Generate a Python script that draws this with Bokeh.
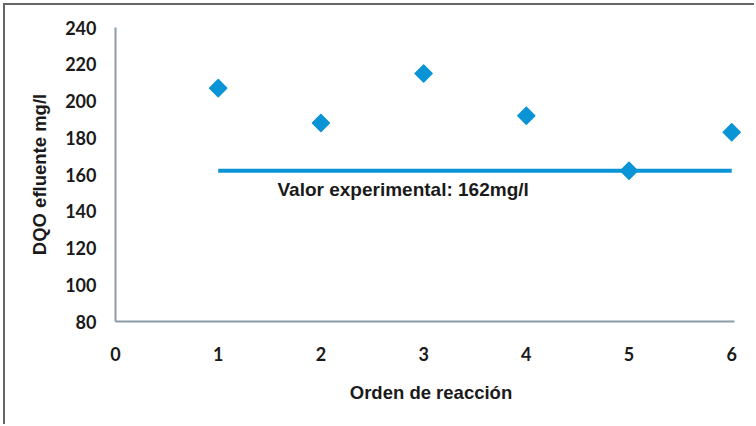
import math
from bokeh.plotting import figure
from bokeh.models import Range1d, FixedTicker, Label
from bokeh.embed import file_html
from bokeh.resources import INLINE

# Data
orden = [1, 2, 3, 4, 5, 6]
dqo = [207, 188, 215, 192, 162, 183]
valor_exp = 162
linea_x = [1, 6]
x_ticks = [0, 1, 2, 3, 4, 5, 6]
y_ticks = [80, 100, 120, 140, 160, 180, 200, 220, 240]
anot_texto = "Valor experimental: 162mg/l"

BLUE = "#0a94d6"
AXIS = "#8a9ca5"
TXT = "#1a1a1a"

p = figure(width=751, height=421, output_backend="svg", toolbar_location=None,
           x_range=Range1d(0, 6.144), y_range=Range1d(80, 240),
           min_border_left=110, min_border_right=10, min_border_top=22, min_border_bottom=105)
p.styles = {"border-top": "2px solid #666", "border-left": "2px solid #666",
            "margin-top": "3px", "margin-left": "3px"}
p.outline_line_color = None
p.grid.grid_line_color = None

p.line(linea_x, [valor_exp, valor_exp], line_color=BLUE, line_width=4)
p.scatter(orden, dqo, marker="square", size=12, angle=math.pi / 4,
          fill_color=BLUE, line_color=BLUE, line_width=1.5, line_join="round")

lab = Label(x=1.577, y=151.6, text=anot_texto, text_font="Liberation Sans",
            text_font_style="bold", text_font_size="19px", text_color=TXT,
            text_baseline="middle")
p.add_layout(lab)

for ax in (p.xaxis, p.yaxis):
    ax.axis_line_color = AXIS
    ax.axis_line_width = 2
    ax.major_tick_line_color = None
    ax.minor_tick_line_color = None
    ax.major_label_text_font = "Lato"
    ax.major_label_text_font_style = "bold"
    ax.major_label_text_font_size = "18px"
    ax.major_label_text_color = TXT
    ax.axis_label_text_font = "Liberation Sans"
    ax.axis_label_text_font_style = "bold"
    ax.axis_label_text_font_size = "18.5px"
    ax.axis_label_text_color = TXT

p.xaxis.bounds = (0, 6.03)
p.xaxis.ticker = FixedTicker(ticks=x_ticks)
p.yaxis.ticker = FixedTicker(ticks=y_ticks)
p.xaxis.axis_label = "Orden de reacción"
p.yaxis.axis_label = "DQO efluente mg/l"
p.xaxis.major_label_standoff = 19
p.yaxis.major_label_standoff = 13
p.xaxis.axis_label_standoff = 18
p.yaxis.axis_label_standoff = 12

open("out.html", "w").write(file_html(p, INLINE))
